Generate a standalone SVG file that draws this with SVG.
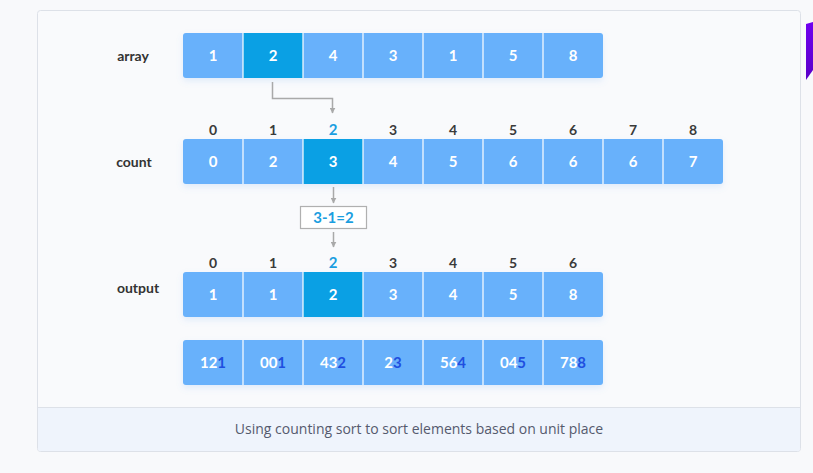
<svg xmlns="http://www.w3.org/2000/svg" width="813" height="473" viewBox="0 0 813 473">
<defs>
<style>
.cell{fill:#68b1fb}
.hi{fill:#0aa0e4}
.div{stroke:#ffffff;stroke-width:1.2}
.v{font-family:Lato,"Open Sans","Liberation Sans",sans-serif;font-weight:700;font-size:15px;fill:#ffffff;text-anchor:middle}
.idx{font-family:Lato,"Open Sans","Liberation Sans",sans-serif;font-weight:700;font-size:14px;fill:#3a3a3a;text-anchor:middle}
.idxh{fill:#1b9ee0;font-size:15px}
.lab{font-family:Lato,"Open Sans","Liberation Sans",sans-serif;font-weight:700;font-size:14px;fill:#333333;text-anchor:middle}
.dk{fill:#1f4fe0}
.conn{fill:none;stroke:#a9a9a9;stroke-width:1.5}
</style>
<marker id="ah" viewBox="0 0 10 10" refX="9" refY="5" markerWidth="6" markerHeight="6" orient="auto" markerUnits="userSpaceOnUse">
<path d="M0,0 L10,5 L0,10 z" fill="#a9a9a9"/>
</marker>
<filter id="sh" x="-5%" y="-20%" width="110%" height="160%">
<feDropShadow dx="0" dy="3" stdDeviation="3" flood-color="#6aa8f0" flood-opacity="0.18"/>
</filter>
<linearGradient id="pg" x1="0" y1="0" x2="0" y2="1">
<stop offset="0" stop-color="#7000f0"/>
<stop offset="1" stop-color="#5a00c8"/>
</linearGradient>
</defs>
<rect x="0" y="0" width="813" height="473" fill="#f8f9fb"/>
<polygon points="806,24 813,22 813,70 806,80" fill="url(#pg)"/>
<rect x="37.5" y="10.5" width="763" height="441" rx="3" fill="#f9fafc" stroke="#dde1e8"/>
<path d="M38,407.5 H800 V449 a2,2 0 0 1 -2,2 H40 a2,2 0 0 1 -2,-2 z" fill="#eff4fc"/>
<line x1="38" y1="407.5" x2="800" y2="407.5" stroke="#dde1e8"/>
<text x="419" y="434" font-family="'Open Sans','Liberation Sans',sans-serif" font-size="14" fill="#555a6e" text-anchor="middle">Using counting sort to sort elements based on unit place</text>

<g id="labels">
<text class="lab" x="133" y="61">array</text>
<text class="lab" x="134" y="167">count</text>
<text class="lab" x="138" y="293">output</text>
</g>

<g id="array">
<rect x="183" y="33" width="420" height="45" rx="3" class="cell" filter="url(#sh)"/>
<rect x="243" y="33" width="60" height="45" class="hi"/>
<g class="div"><line x1="243" y1="33" x2="243" y2="78"/><line x1="303" y1="33" x2="303" y2="78"/><line x1="363" y1="33" x2="363" y2="78"/><line x1="423" y1="33" x2="423" y2="78"/><line x1="483" y1="33" x2="483" y2="78"/><line x1="543" y1="33" x2="543" y2="78"/></g>
<text class="v" x="213" y="61">1</text><text class="v" x="273" y="61">2</text><text class="v" x="333" y="61">4</text><text class="v" x="393" y="61">3</text><text class="v" x="453" y="61">1</text><text class="v" x="513" y="61">5</text><text class="v" x="573" y="61">8</text>
</g>

<g id="count-index">
<text class="idx" x="213" y="135">0</text><text class="idx" x="273" y="135">1</text><text class="idx idxh" x="333" y="135">2</text><text class="idx" x="393" y="135">3</text><text class="idx" x="453" y="135">4</text><text class="idx" x="513" y="135">5</text><text class="idx" x="573" y="135">6</text><text class="idx" x="633" y="135">7</text><text class="idx" x="693" y="135">8</text>
</g>

<g id="count">
<rect x="183" y="139" width="540" height="45" rx="3" class="cell" filter="url(#sh)"/>
<rect x="303" y="139" width="60" height="45" class="hi"/>
<g class="div"><line x1="243" y1="139" x2="243" y2="184"/><line x1="303" y1="139" x2="303" y2="184"/><line x1="363" y1="139" x2="363" y2="184"/><line x1="423" y1="139" x2="423" y2="184"/><line x1="483" y1="139" x2="483" y2="184"/><line x1="543" y1="139" x2="543" y2="184"/><line x1="603" y1="139" x2="603" y2="184"/><line x1="663" y1="139" x2="663" y2="184"/></g>
<text class="v" x="213" y="167">0</text><text class="v" x="273" y="167">2</text><text class="v" x="333" y="167">3</text><text class="v" x="393" y="167">4</text><text class="v" x="453" y="167">5</text><text class="v" x="513" y="167">6</text><text class="v" x="573" y="167">6</text><text class="v" x="633" y="167">6</text><text class="v" x="693" y="167">7</text>
</g>

<g id="calc">
<rect x="300.5" y="206.5" width="66" height="22" fill="#ffffff" stroke="#b0b0b0" stroke-width="1.2"/>
<text x="333.5" y="223" font-family="Lato,'Open Sans','Liberation Sans',sans-serif" font-weight="700" font-size="15" fill="#1b9ee0" text-anchor="middle">3-1=2</text>
</g>

<g id="output-index">
<text class="idx" x="213" y="268">0</text><text class="idx" x="273" y="268">1</text><text class="idx idxh" x="333" y="268">2</text><text class="idx" x="393" y="268">3</text><text class="idx" x="453" y="268">4</text><text class="idx" x="513" y="268">5</text><text class="idx" x="573" y="268">6</text>
</g>

<g id="output">
<rect x="183" y="272" width="420" height="45" rx="3" class="cell" filter="url(#sh)"/>
<rect x="303" y="272" width="60" height="45" class="hi"/>
<g class="div"><line x1="243" y1="272" x2="243" y2="317"/><line x1="303" y1="272" x2="303" y2="317"/><line x1="363" y1="272" x2="363" y2="317"/><line x1="423" y1="272" x2="423" y2="317"/><line x1="483" y1="272" x2="483" y2="317"/><line x1="543" y1="272" x2="543" y2="317"/></g>
<text class="v" x="213" y="300">1</text><text class="v" x="273" y="300">1</text><text class="v" x="333" y="300">2</text><text class="v" x="393" y="300">3</text><text class="v" x="453" y="300">4</text><text class="v" x="513" y="300">5</text><text class="v" x="573" y="300">8</text>
</g>

<g id="numbers">
<rect x="183" y="340" width="420" height="45" rx="3" class="cell" filter="url(#sh)"/>
<g class="div"><line x1="243" y1="340" x2="243" y2="385"/><line x1="303" y1="340" x2="303" y2="385"/><line x1="363" y1="340" x2="363" y2="385"/><line x1="423" y1="340" x2="423" y2="385"/><line x1="483" y1="340" x2="483" y2="385"/><line x1="543" y1="340" x2="543" y2="385"/></g>
<text class="v" x="213" y="368">12<tspan class="dk">1</tspan></text>
<text class="v" x="273" y="368">00<tspan class="dk">1</tspan></text>
<text class="v" x="333" y="368">43<tspan class="dk">2</tspan></text>
<text class="v" x="393" y="368">2<tspan class="dk">3</tspan></text>
<text class="v" x="453" y="368">56<tspan class="dk">4</tspan></text>
<text class="v" x="513" y="368">04<tspan class="dk">5</tspan></text>
<text class="v" x="573" y="368">78<tspan class="dk">8</tspan></text>
</g>

<g id="connectors">
<path class="conn" d="M272.5,82 V98.5 H332.5 V113" marker-end="url(#ah)"/>
<path class="conn" d="M333.5,187 V203" marker-end="url(#ah)"/>
<path class="conn" d="M333.5,232 V247" marker-end="url(#ah)"/>
</g>
</svg>
